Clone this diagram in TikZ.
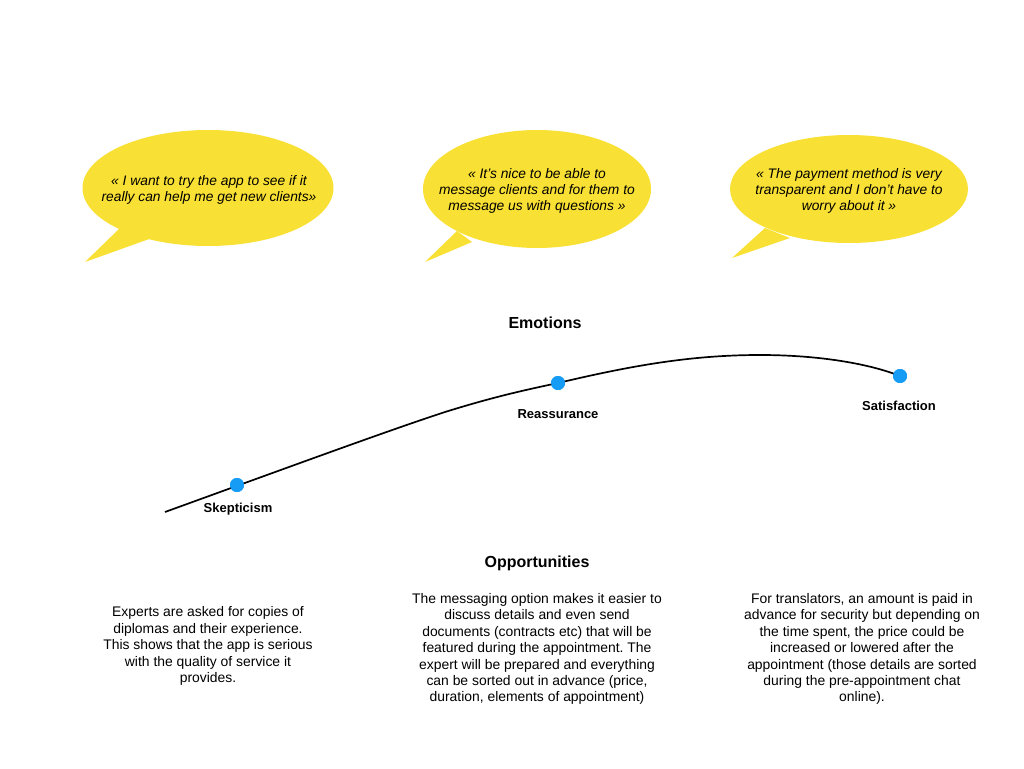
\documentclass[tikz,border=0pt]{standalone}
\usepackage{fontspec}
\setmainfont{Liberation Sans}
\frenchspacing
\definecolor{bubbley}{RGB}{249,224,52}
\definecolor{dotblue}{RGB}{22,156,245}
\tikzset{
  bubble/.style={ellipse, fill=bubbley, inner sep=0pt},
  tail/.style={fill=bubbley},
  quote/.style={align=center, font=\fontsize{13.8}{16}\selectfont\itshape},
  title/.style={font=\fontsize{16}{19}\selectfont\bfseries},
  emo/.style={font=\fontsize{13}{15}\selectfont\bfseries},
  body/.style={align=center, font=\fontsize{13.9}{16.4}\selectfont},
  dot/.style={circle, fill=dotblue, minimum size=14pt, inner sep=0pt},
}
\usetikzlibrary{shapes.geometric}
\begin{document}
\begin{tikzpicture}[x=1pt,y=-1pt]
\useasboundingbox (0,0) rectangle (1024,768);
% bubble 1
\fill[tail] (120,228) -- (85,262) -- (152,238) -- cycle;
\node[bubble, minimum width=251pt, minimum height=116pt] (b1) at (208,188) {};
\node[quote] (q1) at (209,190) {« I want to try the app to see if it\\really can help me get new clients»};
% bubble 2
\fill[tail] (457,231) -- (425,262) -- (472,242) -- cycle;
\node[bubble, minimum width=228pt, minimum height=118pt] (b2) at (537,189) {};
\node[quote] (q2) at (537,191) {« It’s nice to be able to\\message clients and for them to\\message us with questions »};
% bubble 3
\fill[tail] (765,228) -- (732,258) -- (790,238) -- cycle;
\node[bubble, minimum width=238pt, minimum height=108pt] (b3) at (849,189) {};
\node[quote] (q3) at (849,191) {« The payment method is very\\transparent and I don’t have to\\worry about it »};
% emotions
\node[title] (emotions) at (545,323) {Emotions};
\coordinate (c0) at (165,512);
\coordinate (c1) at (445,412);
\coordinate (c2) at (760,355);
\node[dot] (d1) at (237,485) {};
\node[dot] (d2) at (558,383) {};
\node[dot] (d3) at (900,376) {};
\draw[line width=1.7pt] (c0) .. controls (300,463) and (390,430) .. (c1)
   .. controls (490,398) and (520,391) .. (d2.center)
   .. controls (630,366) and (690,355) .. (c2)
   .. controls (820,355) and (870,364) .. (d3.center);
\node[dot] at (d1) {};
\node[dot] at (d2) {};
\node[dot] at (d3) {};
\node[emo] (l1) at (238,509) {Skepticism};
\node[emo] (l2) at (558,414) {Reassurance};
\node[emo] (l3) at (899,406) {Satisfaction};
% opportunities
\node[title] (opp) at (537,563) {Opportunities};
\node[body] (t1) at (208,646) {Experts are asked for copies of\\diplomas and their experience.\\This shows that the app is serious\\with the quality of service it\\provides.};
\node[body] (t2) at (537,649) {The messaging option makes it easier to\\discuss details and even send\\documents (contracts etc) that will be\\featured during the appointment. The\\expert will be prepared and everything\\can be sorted out in advance (price,\\duration, elements of appointment)};
\node[body] (t3) at (862,649) {For translators, an amount is paid in\\advance for security but depending on\\the time spent, the price could be\\increased or lowered after the\\appointment (those details are sorted\\during the pre-appointment chat\\online).};
\end{tikzpicture}
\end{document}
